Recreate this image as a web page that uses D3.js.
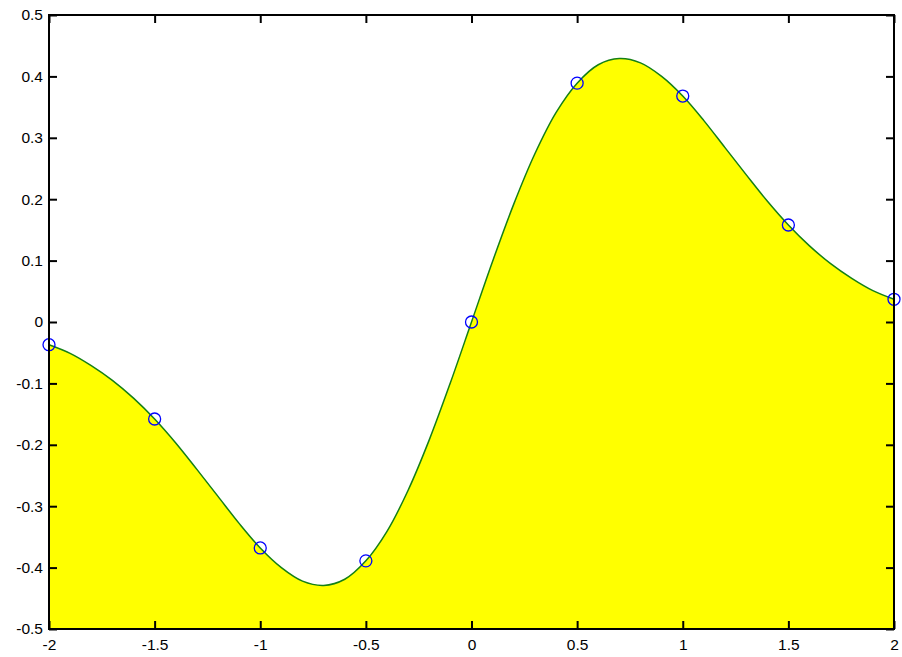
<!DOCTYPE html>
<html><head><meta charset="utf-8">
<script src="https://cdn.jsdelivr.net/npm/d3@7"></script>
<style>body{margin:0;background:#fff;} text{font-family:Arial,"Liberation Sans",sans-serif;}</style>
</head><body>
<script>
// sample points (markers)
const markerX = [-2, -1.5, -1, -0.5, 0, 0.5, 1, 1.5, 2];
const markerY = [-0.037, -0.158, -0.368, -0.389, 0, 0.389, 0.368, 0.158, 0.037];
// curve at 0.1 steps
const curveX = [-2,-1.9,-1.8,-1.7,-1.6,-1.5,-1.4,-1.3,-1.2,-1.1,-1,-0.9,-0.8,-0.7,-0.6,-0.5,-0.4,-0.3,-0.2,-0.1,0,
                0.1,0.2,0.3,0.4,0.5,0.6,0.7,0.8,0.9,1,1.1,1.2,1.3,1.4,1.5,1.6,1.7,1.8,1.9,2];
const curveY = [-0.037,-0.051,-0.071,-0.095,-0.124,-0.158,-0.197,-0.240,-0.284,-0.328,-0.368,-0.400,-0.422,-0.429,-0.419,-0.389,-0.341,-0.274,-0.192,-0.099,0,
                0.099,0.192,0.274,0.341,0.389,0.419,0.429,0.422,0.400,0.368,0.328,0.284,0.240,0.197,0.158,0.124,0.095,0.071,0.051,0.037];
const xTicks = [-2,-1.5,-1,-0.5,0,0.5,1,1.5,2];
const yTicks = [0.5,0.4,0.3,0.2,0.1,0,-0.1,-0.2,-0.3,-0.4,-0.5];

const W = 902, H = 657;
const L = 49, T = 15, R = 894, B = 629;
const svg = d3.select("body").append("svg").attr("width", W).attr("height", H);
const x = d3.scaleLinear().domain([-2, 2]).range([L, R]);
const y = d3.scaleLinear().domain([-0.5, 0.5]).range([B, T]);

const pts = curveX.map((d, i) => [d, curveY[i]]);
const area = d3.area().x(d => x(d[0])).y0(y(-0.5)).y1(d => y(d[1])).curve(d3.curveCatmullRom);
const line = d3.line().x(d => x(d[0])).y(d => y(d[1])).curve(d3.curveCatmullRom);

svg.append("path").attr("d", area(pts)).attr("fill", "#ffff00");
svg.append("path").attr("d", line(pts)).attr("fill", "none").attr("stroke", "#158015").attr("stroke-width", 1.5);

svg.selectAll("circle.m").data(markerX).enter().append("circle")
  .attr("cx", d => x(d)).attr("cy", (d, i) => y(markerY[i])).attr("r", 6)
  .attr("fill", "none").attr("stroke", "#0000ff").attr("stroke-width", 1.3);

// axes
const ax = svg.append("g").attr("transform", `translate(0,${B})`)
  .call(d3.axisBottom(x).tickValues(xTicks).tickSize(-8).tickPadding(10).tickFormat(d => String(d)));
const axT = svg.append("g").attr("transform", `translate(0,${T})`)
  .call(d3.axisTop(x).tickValues(xTicks).tickSize(-8).tickFormat(""));
const ay = svg.append("g").attr("transform", `translate(${L},0)`)
  .call(d3.axisLeft(y).tickValues(yTicks).tickSize(-8).tickPadding(6).tickFormat(d => String(d)));
const ayR = svg.append("g").attr("transform", `translate(${R},0)`)
  .call(d3.axisRight(y).tickValues(yTicks).tickSize(-8).tickFormat(""));
[ax, axT, ay, ayR].forEach(g => {
  g.select(".domain").remove();
  g.selectAll(".tick line").attr("stroke", "#000").attr("stroke-width", 2);
  g.selectAll("text").attr("font-size", 15.5).attr("fill", "#000");
});
svg.append("rect").attr("x", L).attr("y", T).attr("width", R - L).attr("height", B - T)
  .attr("fill", "none").attr("stroke", "#000").attr("stroke-width", 2);
</script>
</body></html>
